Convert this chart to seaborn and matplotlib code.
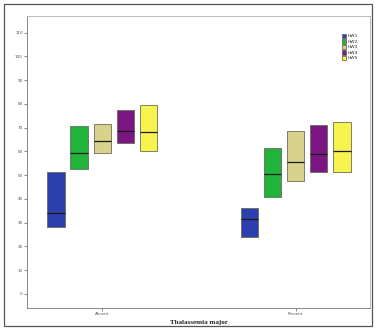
import numpy as np
import pandas as pd
import matplotlib
matplotlib.use("Agg")
import matplotlib.pyplot as plt
from matplotlib.patches import Rectangle
import seaborn as sns

# Box summaries per group: lower edge, median, upper edge
groups = ["Absent", "Present"]
series = ["HW1", "HW2", "HW3", "HW4", "HW5"]
lower = {
    "Absent":  [28.1, 52.4, 59.3, 63.5, 60.3],
    "Present": [24.0, 40.6, 47.6, 51.4, 51.4],
}
median = {
    "Absent":  [34.2, 59.3, 64.3, 68.5, 68.3],
    "Present": [31.4, 50.5, 55.4, 59.0, 60.3],
}
upper = {
    "Absent":  [51.4, 70.5, 71.6, 77.5, 79.6],
    "Present": [36.3, 61.4, 68.4, 70.9, 72.3],
}
colors = ["#2c3fae", "#21b43a", "#d9d18c", "#7b1783", "#f6f24e"]
yticks = list(range(0, 111, 10))

# Five points per box so that Q1/median/Q3 land on lower/median/upper
rows = []
for g in groups:
    for s, lo, md, hi in zip(series, lower[g], median[g], upper[g]):
        for v in (lo, lo, md, hi, hi):
            rows.append({"group": g, "series": s, "value": v})
df = pd.DataFrame(rows)

sns.set_theme(style="white")
plt.rcParams["font.family"] = ["DejaVu Sans"]

fig = plt.figure(figsize=(3.75, 3.28), dpi=100)
ax = fig.add_axes([27 / 375, 20 / 328, (370 - 27) / 375, (308 - 16) / 328])

sns.boxplot(
    data=df, x="group", y="value", hue="series", order=groups,
    hue_order=series, palette=colors, width=0.6, gap=0.25, whis=0,
    showcaps=False, showfliers=False, saturation=1, ax=ax,
    boxprops=dict(edgecolor="#6b6b5a", linewidth=0.6),
    medianprops=dict(color="#1a1a1a", linewidth=0.9),
    whiskerprops=dict(linewidth=0),
)

ax.set_xlim(-0.39, 1.385)
ax.set_ylim(-6, 117)
ax.set_yticks(yticks)
ax.set_yticklabels([str(t) for t in yticks], fontsize=3)
ax.tick_params(axis="y", length=2, width=0.5, pad=1, colors="#555555")
ax.tick_params(axis="x", length=2, width=0.5, pad=1, labelsize=3, colors="#555555")
ax.tick_params(axis="both", direction="out", left=True, bottom=True)
ax.set_ylabel("")
ax.set_xlabel("Thalassemia major", fontsize=5, fontweight="bold",
              family="Liberation Serif", labelpad=3, color="#222222")

for side, sp in ax.spines.items():
    sp.set_visible(True)
    sp.set_linewidth(0.7)
    sp.set_color("#888888" if side in ("left", "bottom") else "#bbbbbb")

leg = ax.legend(loc="upper right", bbox_to_anchor=(0.975, 0.95), frameon=False,
                fontsize=3.2, handlelength=1.1, handleheight=1.1,
                handletextpad=0.3, labelspacing=0.2, borderpad=0.2)

# Outer frame around the whole figure
fig.patches.append(Rectangle((4 / 375, 2 / 328), 368 / 375, 322 / 328,
                             transform=fig.transFigure, fill=False,
                             edgecolor="#555555", linewidth=0.9))

fig.savefig("out.png", dpi=100)
